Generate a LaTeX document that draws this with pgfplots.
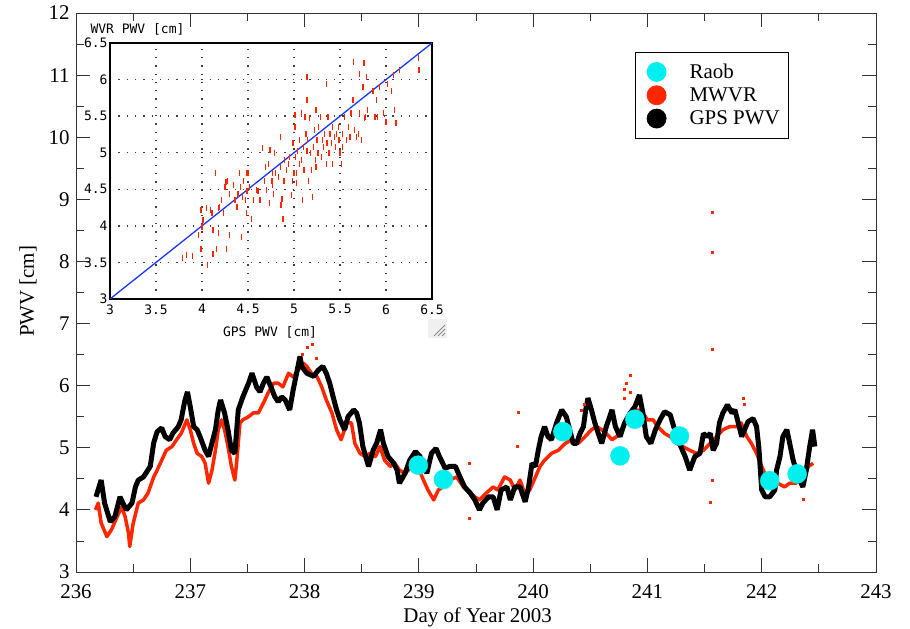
\documentclass[border=0pt]{standalone}
\usepackage{fontspec}
\setmainfont{Liberation Serif}
\newfontfamily\insetfamily{DejaVu Sans Mono}
\newcommand\insetfont{\fontsize{13bp}{15bp}\selectfont\insetfamily}
\usepackage{pgfplots}
\pgfplotsset{compat=1.18}
\usepackage{pgfplotstable}

\definecolor{mwvr}{RGB}{255,38,0}
\definecolor{raob}{RGB}{0,240,240}
\definecolor{fitblue}{RGB}{25,55,255}

% GPS-derived precipitable water vapour [cm]
\pgfplotstableread{
doy pwv
236.175 4.21
236.22 4.48
236.25 4.11
236.30 3.81
236.34 3.89
236.385 4.21
236.41 4.11
236.44 4.00
236.49 4.11
236.52 4.37
236.545 4.48
236.59 4.53
236.65 4.70
236.68 5.08
236.71 5.26
236.75 5.32
236.78 5.18
236.82 5.13
236.85 5.24
236.895 5.34
236.92 5.45
236.95 5.74
236.975 5.90
237.0 5.66
237.03 5.34
237.06 5.29
237.085 5.18
237.13 4.96
237.16 4.86
237.19 5.08
237.22 5.29
237.245 5.61
237.265 5.77
237.30 5.56
237.33 5.29
237.36 4.96
237.39 4.91
237.42 5.61
237.46 5.82
237.51 6.04
237.54 6.20
237.58 5.98
237.61 5.90
237.64 6.04
237.67 6.14
237.71 5.96
237.74 5.82
237.77 5.74
237.80 5.82
237.83 5.77
237.87 5.61
237.90 5.93
237.93 6.20
237.96 6.47
237.975 6.31
238.02 6.20
238.08 6.15
238.12 6.25
238.16 6.31
238.19 6.20
238.22 6.04
238.25 5.82
238.28 5.61
238.31 5.45
238.35 5.29
238.38 5.50
238.43 5.61
238.455 5.56
238.48 5.40
238.51 5.02
238.56 4.70
238.60 4.96
238.63 5.07
238.665 5.29
238.69 5.07
238.73 4.86
238.78 4.75
238.81 4.64
238.83 4.43
238.88 4.59
238.92 4.80
238.97 4.94
239.01 4.86
239.07 4.59
239.11 4.91
239.15 4.99
239.18 4.86
239.23 4.67
239.27 4.70
239.32 4.70
239.36 4.53
239.40 4.37
239.45 4.27
239.49 4.16
239.53 4.00
239.56 4.11
239.61 4.21
239.65 4.21
239.685 4.00
239.72 4.32
239.77 4.37
239.80 4.16
239.84 4.37
239.885 4.37
239.93 4.13
239.96 4.37
239.99 4.75
240.02 4.70
240.045 4.96
240.07 5.18
240.10 5.34
240.13 5.18
240.16 5.13
240.205 5.40
240.25 5.61
240.29 5.50
240.32 5.29
240.35 5.07
240.38 5.07
240.41 5.23
240.44 5.34
240.46 5.61
240.48 5.80
240.51 5.61
240.54 5.40
240.57 5.23
240.60 5.07
240.64 5.34
240.69 5.61
240.72 5.34
240.76 5.18
240.80 5.40
240.85 5.56
240.89 5.66
240.93 5.85
240.96 5.56
240.99 5.18
241.03 5.07
241.07 5.29
241.11 5.45
241.15 5.58
241.20 5.53
241.23 5.34
241.28 5.07
241.33 4.86
241.37 4.64
241.415 4.86
241.46 4.91
241.49 5.23
241.52 5.18
241.55 5.23
241.575 4.96
241.605 5.07
241.63 5.40
241.66 5.56
241.70 5.69
241.74 5.56
241.765 5.61
241.795 5.40
241.825 5.18
241.85 5.29
241.88 5.42
241.925 5.47
241.955 5.34
241.975 5.00
242.0 4.32
242.03 4.21
242.07 4.21
242.115 4.32
242.13 4.64
242.16 4.86
242.185 5.18
242.22 5.29
242.245 5.07
242.275 4.80
242.32 4.53
242.36 4.37
242.39 4.64
242.42 5.02
242.445 5.29
242.465 5.02
}\gpsdata

% microwave water vapour radiometer retrievals [cm]
\pgfplotstableread{
doy pwv
236.17 4.00
236.195 4.11
236.22 3.79
236.27 3.57
236.31 3.68
236.36 3.89
236.40 4.05
236.43 3.89
236.46 3.62
236.47 3.41
236.50 3.78
236.545 4.11
236.59 4.16
236.63 4.27
236.68 4.53
236.71 4.64
236.75 4.80
236.79 4.96
236.84 5.02
236.88 5.13
236.92 5.23
236.97 5.45
237.0 5.29
237.03 5.07
237.06 4.91
237.10 4.86
237.13 4.75
237.16 4.43
237.19 4.64
237.22 4.96
237.245 5.29
237.275 5.45
237.30 5.29
237.33 5.02
237.36 4.70
237.39 4.48
237.405 4.75
237.435 5.40
237.46 5.45
237.51 5.50
237.55 5.56
237.595 5.56
237.64 5.72
237.68 5.88
237.73 6.04
237.77 6.04
237.81 5.98
237.86 6.20
237.90 6.14
237.945 6.25
237.99 6.36
238.02 6.31
238.06 6.20
238.11 6.14
238.15 5.98
238.19 5.77
238.24 5.56
238.28 5.29
238.32 5.13
238.37 5.40
238.41 5.40
238.44 5.07
238.485 4.91
238.53 4.86
238.57 4.91
238.62 4.86
238.66 5.02
238.70 4.80
238.75 4.70
238.79 4.75
238.83 4.64
238.88 4.59
238.94 4.70
238.99 4.70
239.04 4.48
239.08 4.32
239.13 4.16
239.17 4.32
239.21 4.37
239.27 4.48
239.33 4.53
239.39 4.37
239.45 4.27
239.49 4.21
239.53 4.16
239.59 4.27
239.65 4.37
239.69 4.32
239.75 4.53
239.80 4.48
239.84 4.32
239.885 4.48
239.93 4.25
239.97 4.32
240.02 4.53
240.06 4.70
240.10 4.80
240.16 4.91
240.22 4.96
240.28 5.07
240.34 5.13
240.395 5.07
240.455 5.18
240.51 5.29
240.555 5.34
240.60 5.29
240.64 5.23
240.69 5.13
240.73 5.18
240.77 5.29
240.82 5.45
240.86 5.56
240.92 5.61
240.96 5.56
241.00 5.45
241.05 5.45
241.09 5.34
241.15 5.23
241.20 5.18
241.255 5.07
241.31 5.02
241.37 4.96
241.43 4.91
241.49 4.96
241.55 5.07
241.605 5.18
241.66 5.29
241.72 5.34
241.78 5.34
241.82 5.40
241.87 5.18
241.91 5.07
241.955 4.91
242.0 4.70
242.04 4.53
242.085 4.43
242.14 4.43
242.20 4.37
242.245 4.43
242.30 4.43
242.36 4.53
242.41 4.70
242.45 4.75
}\mwvrdata

% isolated radiometer samples away from the main trace
\pgfplotstableread{
doy pwv
237.98 6.50
238.02 6.62
238.07 6.66
238.10 6.45
239.44 4.75
239.44 3.87
239.86 5.02
239.87 5.57
240.42 5.60
240.45 5.70
240.80 5.80
240.80 5.95
240.81 6.04
240.85 6.17
240.85 5.90
241.55 4.13
241.57 4.47
241.57 6.59
241.57 8.15
241.57 8.79
241.84 5.80
241.85 5.70
242.36 4.18
}\mwvrspikes

% radiosonde launches
\pgfplotstableread{
doy pwv
238.995 4.72
239.215 4.49
240.26 5.26
240.76 4.87
240.89 5.46
241.28 5.19
242.07 4.47
242.31 4.58
}\raobdata

% WVR versus GPS PWV [cm]
\pgfplotstableread{
gps wvr
3.79 3.56
3.83 3.60
3.90 3.59
3.96 3.87
4.00 3.99
3.99 3.69
3.99 4.22
4.01 4.08
4.06 3.46
4.05 4.24
4.09 4.22
4.11 4.17
4.12 3.94
4.12 3.62
4.16 3.69
4.18 3.90
4.15 4.72
4.18 4.24
4.19 4.26
4.21 4.35
4.23 4.17
4.25 4.53
4.26 4.60
4.27 3.69
4.28 4.62
4.30 3.87
4.30 4.44
4.34 4.56
4.36 4.35
4.38 4.26
4.39 4.44
4.41 4.72
4.42 4.53
4.43 3.85
4.44 4.40
4.45 4.62
4.47 4.35
4.48 4.72
4.48 4.17
4.49 4.47
4.50 4.72
4.52 4.53
4.54 4.10
4.56 4.35
4.59 4.49
4.61 4.47
4.63 4.35
4.66 5.06
4.68 4.62
4.69 4.81
4.70 4.49
4.72 4.85
4.73 4.31
4.74 5.04
4.76 4.62
4.77 4.72
4.77 4.56
4.78 4.44
4.79 4.99
4.80 4.72
4.83 4.67
4.85 5.22
4.85 4.81
4.86 4.28
4.87 4.37
4.88 4.10
4.89 4.62
4.90 4.90
4.92 4.76
4.94 4.85
4.95 4.94
4.97 4.42
4.98 4.62
4.99 5.13
5.00 4.72
5.01 5.35
5.01 5.51
5.02 4.94
5.03 4.72
5.03 4.58
5.04 5.03
5.06 4.85
5.06 5.17
5.08 5.54
5.08 4.90
5.09 4.35
5.10 5.08
5.11 4.76
5.12 5.49
5.13 5.26
5.14 6.04
5.14 5.03
5.14 5.72
5.15 5.17
5.16 4.62
5.17 5.47
5.18 4.99
5.19 4.76
5.20 4.40
5.21 5.08
5.22 5.31
5.23 4.90
5.24 5.58
5.24 4.81
5.25 5.17
5.26 4.99
5.27 5.35
5.29 5.49
5.30 4.94
5.31 5.17
5.32 5.08
5.33 5.26
5.35 4.85
5.35 5.94
5.36 5.13
5.37 5.49
5.38 4.99
5.39 5.26
5.41 5.13
5.42 4.85
5.42 5.35
5.44 5.22
5.45 5.08
5.46 5.26
5.48 5.35
5.49 5.17
5.50 4.99
5.52 4.85
5.53 5.08
5.53 5.26
5.55 5.49
5.57 5.17
5.59 5.35
5.61 5.22
5.62 5.54
5.64 5.72
5.65 6.24
5.66 5.31
5.68 5.22
5.70 5.26
5.71 6.08
5.71 5.54
5.73 5.17
5.75 5.90
5.76 6.22
5.77 5.47
5.78 5.49
5.79 6.04
5.80 5.58
5.86 5.85
5.88 5.49
5.90 5.72
5.91 5.49
5.93 5.90
5.97 5.54
6.00 5.42
6.02 5.94
6.06 5.85
6.08 6.06
6.09 5.58
6.11 5.40
6.15 6.13
6.35 6.29
6.36 6.13
}\scatterdata

\begin{document}
\begin{tikzpicture}
\useasboundingbox (-76bp,-57bp) rectangle (834bp,572bp);

% ---------------- time series ----------------
\begin{axis}[
  at={(0,0)}, anchor=south west,
  scale only axis, width=800bp, height=559bp,
  xmin=236, xmax=243, ymin=3, ymax=12,
  xtick={236,...,243}, ytick={3,...,12},
  minor x tick num=1, minor y tick num=1,
  tick align=inside,
  major tick length=14bp, minor tick length=8bp,
  every tick/.style={black!80, line width=0.8bp},
  axis line style={black!80, line width=0.8bp},
  /pgf/number format/assume math mode=true,
  tick label style={font=\fontsize{21}{21}\selectfont},
  xticklabel style={yshift=-9bp},
  yticklabel style={xshift=-3bp},
  every axis x label/.style={at={(rel axis cs:0.502,0)}, anchor=base, yshift=-50bp},
  every axis y label/.style={at={(rel axis cs:0,0.502)}, xshift=-48bp, anchor=center, rotate=90},
  label style={font=\fontsize{21}{21}\selectfont},
  xlabel={Day of Year 2003},
  ylabel={PWV [cm]},
  legend style={at={(0.699,0.930)}, anchor=north west,
    draw=black, line width=0.8bp,
    font=\fontsize{21}{21}\selectfont,
    inner xsep=7bp, inner ysep=9.5bp, row sep=3.5bp,
    nodes={inner xsep=2bp, inner ysep=1.5bp}},
  legend cell align=left,
  legend image code/.code={%
    \path[draw=none, fill=none] (0bp,-9.5bp) rectangle (45bp,9.5bp);
    \fill (14bp,0bp) circle (9.5bp);},
]
\addlegendimage{color=raob}
\addlegendentry{Raob\hspace{6bp}}
\addlegendimage{color=mwvr}
\addlegendentry{MWVR\hspace{6bp}}
\addlegendimage{color=black}
\addlegendentry{GPS PWV\hspace{6bp}}

\addplot[forget plot, color=mwvr, line width=3.5bp, line join=round] table[x=doy, y=pwv] {\mwvrdata};
\addplot[forget plot, color=black, line width=5bp, line join=bevel] table[x=doy, y=pwv] {\gpsdata};
\addplot[forget plot, only marks, color=mwvr, mark=square*, mark size=1bp] table[x=doy, y=pwv] {\mwvrspikes};
\addplot[forget plot, only marks, color=raob, mark=*, mark size=9.5bp] table[x=doy, y=pwv] {\raobdata};
\end{axis}

% ---------------- inset scatter ----------------
\begin{axis}[
  at={(34bp,273bp)}, anchor=south west,
  scale only axis, width=322bp, height=256bp,
  xmin=3, xmax=6.5, ymin=3, ymax=6.5,
  xtick={3,3.5,...,6.5}, ytick={3,3.5,...,6.5},
  axis background/.style={fill=white},
  axis line style={black, line width=2.5bp},
  major tick length=0pt,
  grid=major,
  grid style={black!75, line width=1.3bp, dash pattern=on 1.3bp off 7bp},
  /pgf/number format/assume math mode=true,
  xticklabel style={font=\insetfont, yshift=-2bp},
  yticklabel style={font=\insetfont, xshift=1bp},
  every axis x label/.style={at={(rel axis cs:0.497,0)}, anchor=center, yshift=-33bp, font=\insetfont},
  every axis y label/.style={at={(rel axis cs:0,1)}, anchor=west, xshift=-23bp, yshift=14bp, font=\insetfont},
  xlabel={GPS PWV [cm]},
  ylabel={WVR PWV [cm]},
]
\addplot[only marks, color=mwvr, mark=|, mark size=3bp, mark options={line width=1.3bp}] table[x=gps, y=wvr] {\scatterdata};
\addplot[color=fitblue, line width=1.3bp] coordinates {(3,3) (6.5,6.5)};
\end{axis}

% window resize grip below the inset
\fill[black!6] (352bp,234bp) rectangle (371bp,253bp);
\draw[black!45, line width=0.8bp] (358bp,236bp) -- (369bp,247bp)
  (362bp,236bp) -- (369bp,243bp) (366bp,236bp) -- (369bp,239bp);
\end{tikzpicture}
\end{document}
